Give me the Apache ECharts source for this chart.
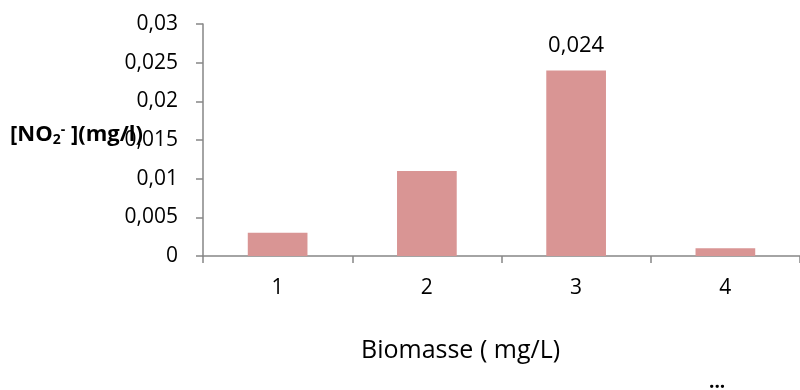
<!DOCTYPE html>
<html>
<head>
<meta charset="utf-8">
<script src="https://cdn.jsdelivr.net/npm/echarts@6/dist/echarts.min.js"></script>
<style>
  html, body { margin: 0; padding: 0; background: #fff; }
  #chart { width: 800px; height: 390px; }
</style>
</head>
<body>
<div id="chart"></div>
<script>
// Biomass levels and the nitrite concentration measured at each
const categories = ['1', '2', '3', '4'];
const nitrite = [0.003, 0.011, 0.024, 0.001];
const labelledIndex = [2];
const yTicks = { min: 0, max: 0.03, interval: 0.005 };

const FONT = 'Open Sans, Liberation Sans, sans-serif';
const AXIS = '#868686';
const comma = v => String(+v.toFixed(4)).replace('.', ',');

const chart = echarts.init(document.getElementById('chart'));
chart.setOption({
  animation: false,
  grid: { left: 203, top: 24, right: -3, bottom: 134, containLabel: false },
  xAxis: {
    type: 'category',
    data: categories,
    boundaryGap: true,
    axisLine: { lineStyle: { color: AXIS, width: 1.5 } },
    axisTick: { show: true, length: 7, alignWithLabel: false, lineStyle: { color: AXIS, width: 1.5 } },
    axisLabel: { color: '#000', fontFamily: FONT, fontSize: 21, margin: 22 },
    splitLine: { show: false }
  },
  yAxis: {
    type: 'value',
    min: yTicks.min, max: yTicks.max, interval: yTicks.interval,
    axisLine: { show: true, lineStyle: { color: AXIS, width: 1.5 } },
    axisTick: { show: true, length: 7, lineStyle: { color: AXIS, width: 1.5 } },
    axisLabel: { color: '#000', fontFamily: FONT, fontSize: 21, margin: 25, formatter: comma },
    splitLine: { show: false }
  },
  series: [{
    type: 'bar',
    data: nitrite,
    barWidth: '40%',
    itemStyle: { color: '#D99594' },
    label: {
      show: true,
      position: 'top',
      distance: 14,
      color: '#000',
      fontFamily: FONT,
      fontSize: 22,
      formatter: p => labelledIndex.includes(p.dataIndex) ? comma(p.value) : ''
    }
  }],
  graphic: [
    {
      type: 'text',
      left: 10, top: 123,
      z: 10,
      style: {
        text: '{b|[NO}{sub|2}{sup|-}{b| ](mg/l)}',
        rich: {
          b: { fontFamily: FONT, fontSize: 22, fontWeight: 'bold', fill: '#000' },
          sub: { fontFamily: FONT, fontSize: 14, fontWeight: 'bold', fill: '#000', verticalAlign: 'bottom', padding: [10, 0, 0, 0] },
          sup: { fontFamily: FONT, fontSize: 14, fontWeight: 'bold', fill: '#000', verticalAlign: 'top', padding: [0, 0, 10, 0] }
        }
      }
    },
    {
      type: 'text',
      left: 361, top: 338,
      style: { text: 'Biomasse ( mg/L)', fontFamily: FONT, fontSize: 25, fill: '#000' }
    },
    {
      type: 'text',
      left: 709, top: 373,
      style: { text: '...', fontFamily: FONT, fontSize: 19, fontWeight: 'bold', fill: '#000' }
    }
  ]
});
</script>
</body>
</html>
